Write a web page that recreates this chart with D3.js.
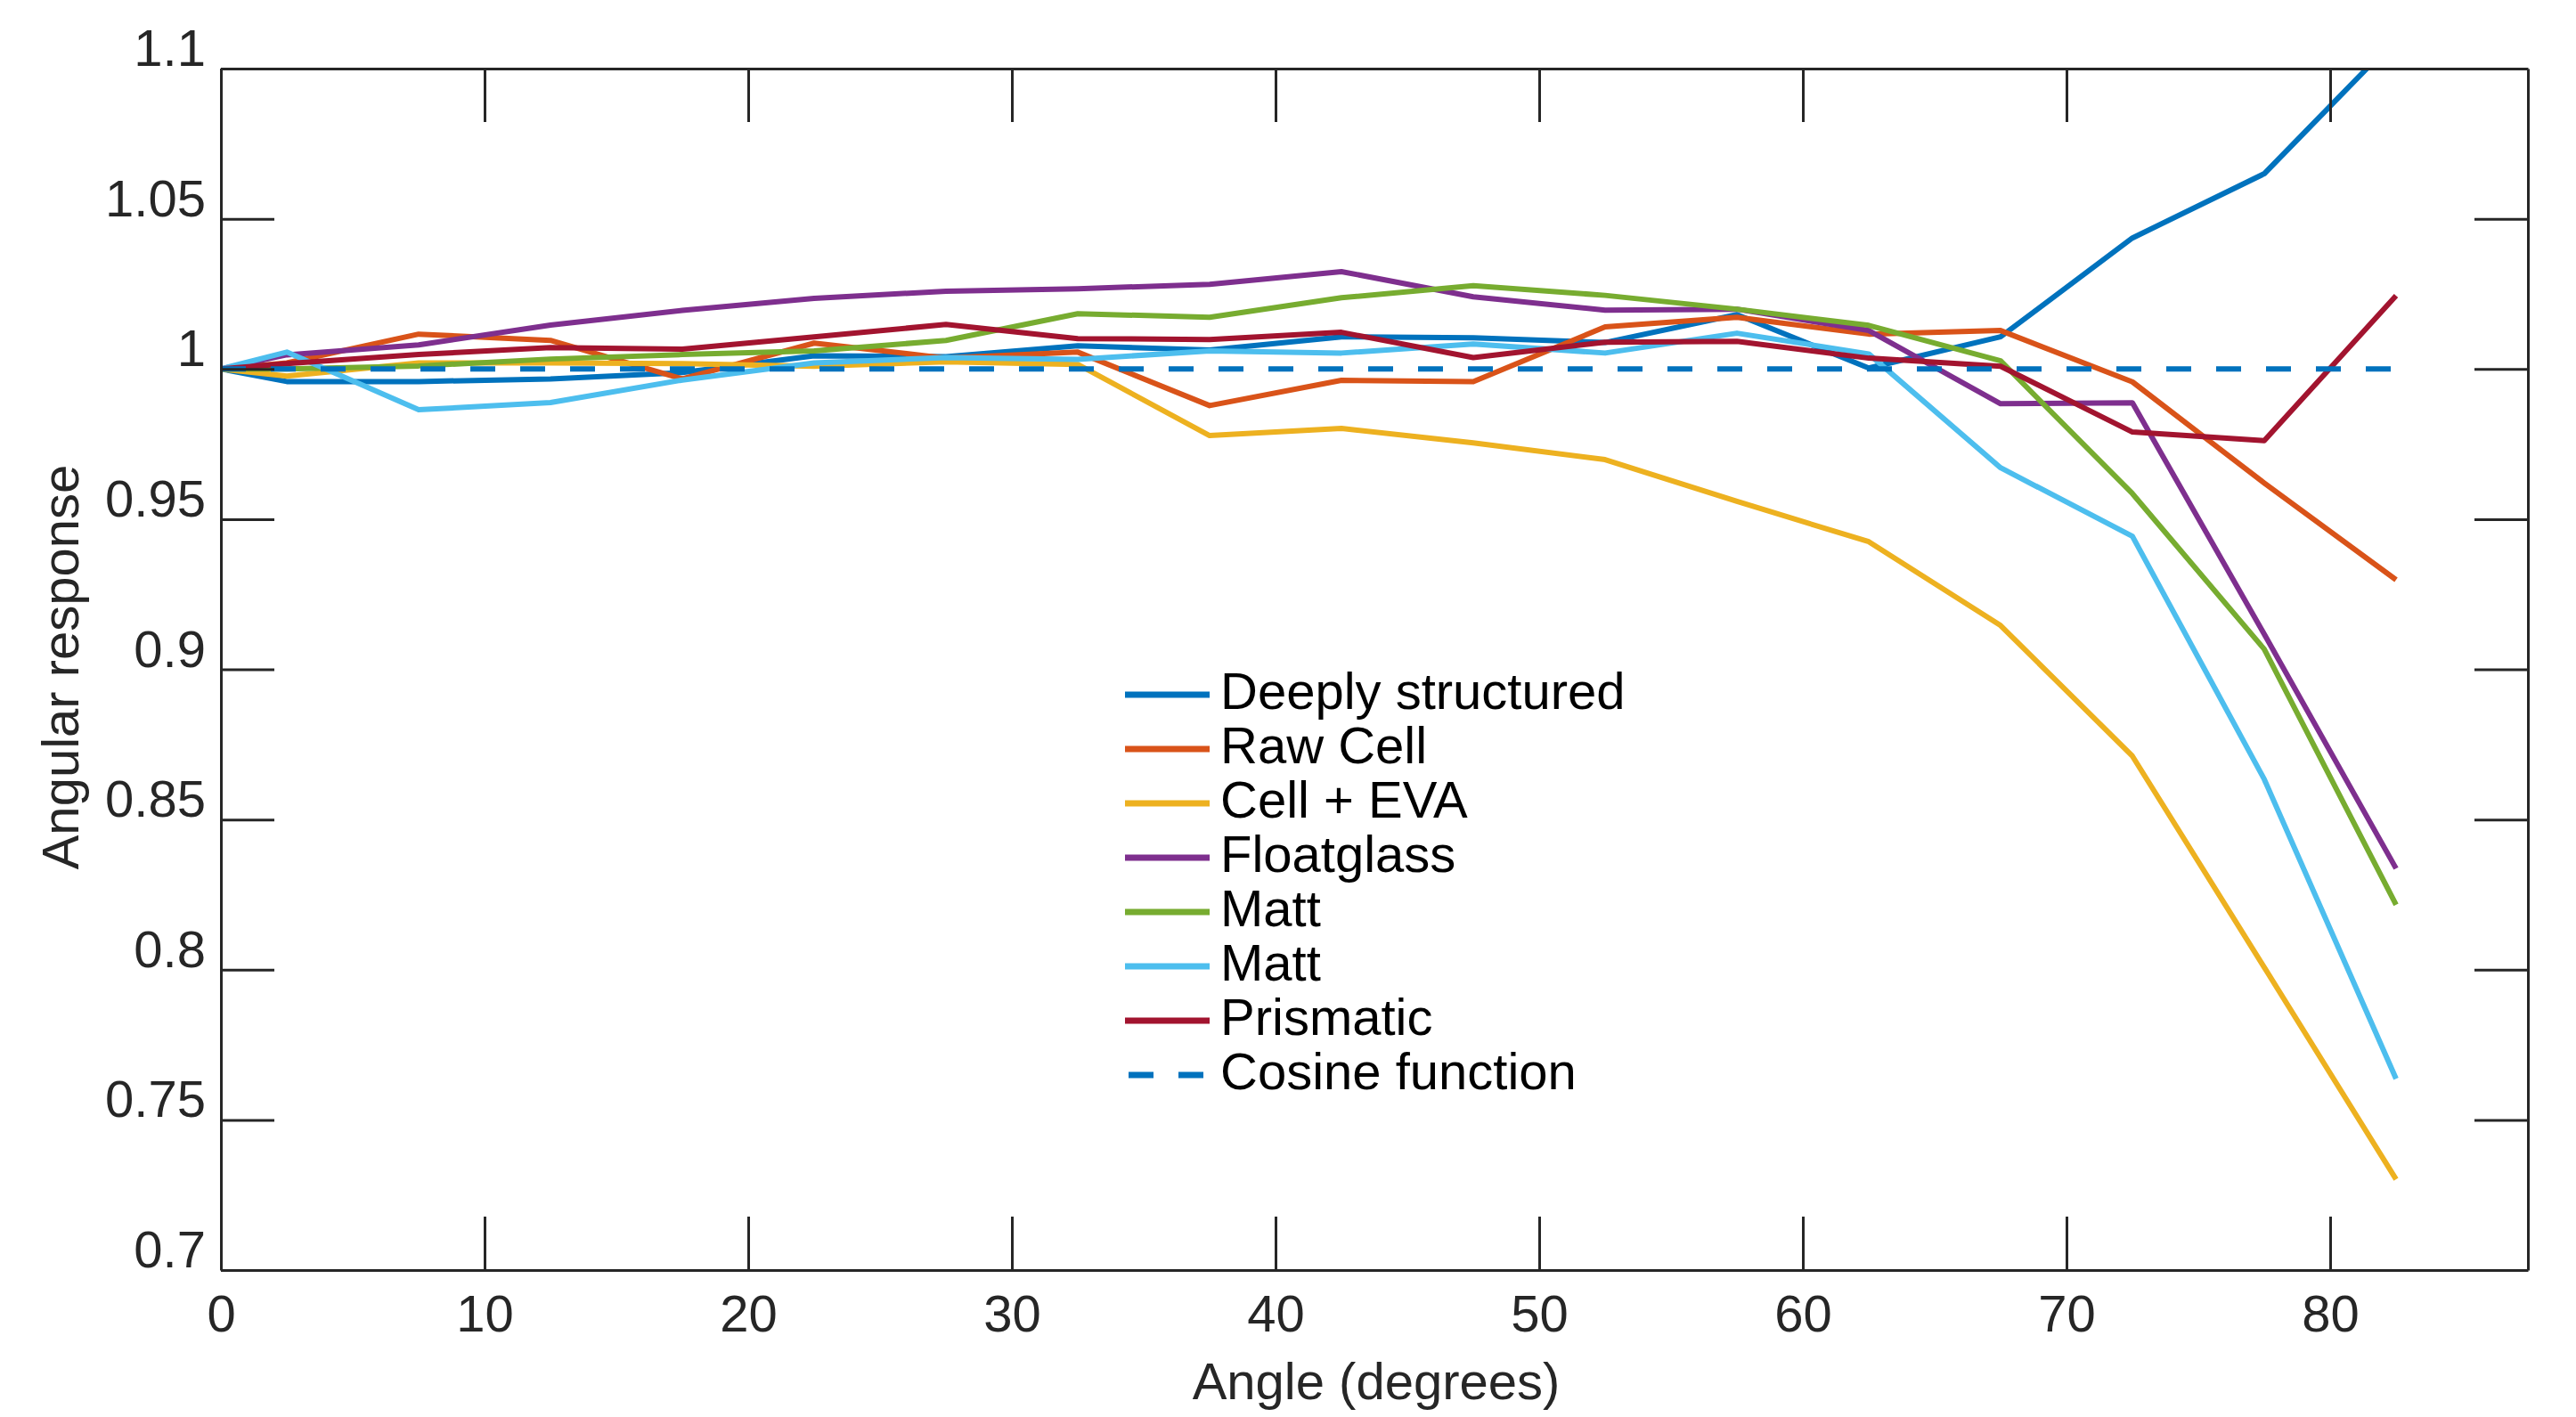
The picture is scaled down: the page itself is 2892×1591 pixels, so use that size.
<!DOCTYPE html>
<html>
<head>
<meta charset="utf-8">
<script src="https://d3js.org/d3.v7.min.js"></script>
<style>
  body { margin: 0; background: #fff; }
  text { font-family: "Liberation Sans", Arial, sans-serif; }
</style>
</head>
<body>
<div id="chart"></div>
<script>
// angle of incidence (degrees)
var angles = [0, 2.5, 7.5, 12.5, 17.5, 22.5, 27.5, 32.5, 37.5, 42.5, 47.5, 52.5, 57.5, 62.5, 67.5, 72.5, 77.5, 82.5];

var deeplyStructured = [1.0, 0.9958, 0.9958, 0.9967, 0.9988, 1.0044, 1.0041, 1.0077, 1.0063, 1.0107, 1.0104, 1.0088, 1.0181, 1.0003, 1.0107, 1.0436, 1.065, 1.110];
var rawCell = [1.0, 1.002, 1.0116, 1.0095, 0.9967, 1.0086, 1.0036, 1.0056, 0.9878, 0.9962, 0.9958, 1.014, 1.0172, 1.0116, 1.0128, 0.9957, 0.962, 0.9298];
var cellEva = [1.0, 0.9976, 1.002, 1.002, 1.0018, 1.0009, 1.0024, 1.0015, 0.9778, 0.9802, 0.9754, 0.9698, 0.9559, 0.9425, 0.9146, 0.8711, 0.8008, 0.7302];
var floatglass = [1.0, 1.0047, 1.008, 1.0146, 1.0195, 1.0235, 1.0259, 1.0267, 1.0282, 1.0324, 1.024, 1.0196, 1.0199, 1.0128, 0.9884, 0.9887, 0.9117, 0.8337];
var mattGreen = [1.0, 1.0, 1.001, 1.0033, 1.0048, 1.006, 1.0095, 1.0184, 1.0172, 1.0237, 1.0277, 1.0245, 1.0199, 1.0145, 1.0027, 0.9585, 0.9067, 0.8216];
var mattLight = [1.0, 1.0056, 0.9864, 0.9888, 0.9963, 1.002, 1.0038, 1.0032, 1.006, 1.0053, 1.0083, 1.0053, 1.0119, 1.005, 0.9671, 0.9443, 0.8634, 0.7637];
var prismatic = [1.0, 1.0018, 1.0048, 1.0071, 1.0066, 1.0107, 1.0148, 1.0101, 1.0098, 1.0122, 1.0038, 1.0089, 1.0092, 1.0036, 1.0009, 0.979, 0.9761, 1.0244];
var cosine = [1, 1, 1, 1, 1, 1, 1, 1, 1, 1, 1, 1, 1, 1, 1, 1, 1, 1];

var seriesNames = ["Deeply structured", "Raw Cell", "Cell + EVA", "Floatglass", "Matt", "Matt", "Prismatic", "Cosine function"];
var seriesValues = [deeplyStructured, rawCell, cellEva, floatglass, mattGreen, mattLight, prismatic, cosine];
var colors = ["#0072BD", "#D95319", "#EDB120", "#7E2F8E", "#77AC30", "#4DBEEE", "#A2142F", "#0072BD"];

var xTicks = [0, 10, 20, 30, 40, 50, 60, 70, 80];
var yTicks = [0.7, 0.75, 0.8, 0.85, 0.9, 0.95, 1, 1.05, 1.1];
var yTickLabels = ["0.7", "0.75", "0.8", "0.85", "0.9", "0.95", "1", "1.05", "1.1"];

var W = 2892, H = 1591;
var pLeft = 248, pRight = 2838, pTop = 77, pBottom = 1426;
var axisColor = "#262626";

var svg = d3.select("#chart").append("svg")
    .attr("width", W).attr("height", H)
    .style("background", "#fff");

var x = d3.scaleLinear().domain([0, 87.5]).range([pLeft, pRight]);
var y = d3.scaleLinear().domain([0.7, 1.1]).range([pBottom, pTop]);

svg.append("clipPath").attr("id", "plotclip")
  .append("rect")
    .attr("x", pLeft).attr("y", pTop)
    .attr("width", pRight - pLeft).attr("height", pBottom - pTop);

// data lines
var line = d3.line()
    .x(function (d, i) { return x(angles[i]); })
    .y(function (d) { return y(d); });

var plot = svg.append("g").attr("clip-path", "url(#plotclip)");
seriesValues.forEach(function (vals, k) {
    plot.append("path")
        .datum(vals)
        .attr("d", line)
        .attr("fill", "none")
        .attr("stroke", colors[k])
        .attr("stroke-width", 6)
        .attr("stroke-linejoin", "round")
        .attr("stroke-dasharray", k == 7 ? "28,28" : null);
});

// axes (ticks pointing inward, box all round)
function styleAxis(g) {
    g.selectAll("path.domain").attr("stroke", axisColor).attr("stroke-width", 3);
    g.selectAll(".tick line").attr("stroke", axisColor).attr("stroke-width", 3);
    g.selectAll("text")
        .attr("fill", axisColor)
        .style("font-size", "58px")
        .style("font-family", "'Liberation Sans', Arial, sans-serif");
}

var xb = svg.append("g").attr("transform", "translate(0," + pBottom + ")")
    .call(d3.axisBottom(x).tickValues(xTicks).tickSizeInner(-60).tickSizeOuter(0));
xb.call(styleAxis);
xb.selectAll("text").attr("y", 69).attr("dy", null);

var xt = svg.append("g").attr("transform", "translate(0," + pTop + ")")
    .call(d3.axisTop(x).tickValues(xTicks).tickSizeInner(-60).tickSizeOuter(0).tickFormat(""));
xt.call(styleAxis);

var yl = svg.append("g").attr("transform", "translate(" + pLeft + ",0)")
    .call(d3.axisLeft(y).tickValues(yTicks).tickSizeInner(-60).tickSizeOuter(0)
        .tickFormat(function (d, i) { return yTickLabels[i]; }));
yl.call(styleAxis);
yl.selectAll("text").attr("x", -17).attr("y", -3.5).attr("dy", null);

var yr = svg.append("g").attr("transform", "translate(" + pRight + ",0)")
    .call(d3.axisRight(y).tickValues(yTicks).tickSizeInner(-60).tickSizeOuter(0).tickFormat(""));
yr.call(styleAxis);

// axis titles
svg.append("text")
    .attr("x", 1545).attr("y", 1571)
    .attr("text-anchor", "middle")
    .attr("fill", axisColor)
    .style("font-size", "58px")
    .text("Angle (degrees)");

svg.append("text")
    .attr("transform", "translate(88,749) rotate(-90)")
    .attr("text-anchor", "middle")
    .attr("fill", axisColor)
    .style("font-size", "58px")
    .text("Angular response");

// legend
var legend = svg.append("g");
seriesNames.forEach(function (name, k) {
    var ly = 780 + 61 * k;
    legend.append("line")
        .attr("x1", k == 7 ? 1267 : 1263).attr("x2", k == 7 ? 1351 : 1358)
        .attr("y1", ly).attr("y2", ly)
        .attr("stroke", colors[k])
        .attr("stroke-width", 7)
        .attr("stroke-dasharray", k == 7 ? "28,28" : null);
    legend.append("text")
        .attr("x", 1370).attr("y", ly + 16)
        .attr("fill", "#000")
        .style("font-size", "58px")
        .text(name);
});
</script>
</body>
</html>
